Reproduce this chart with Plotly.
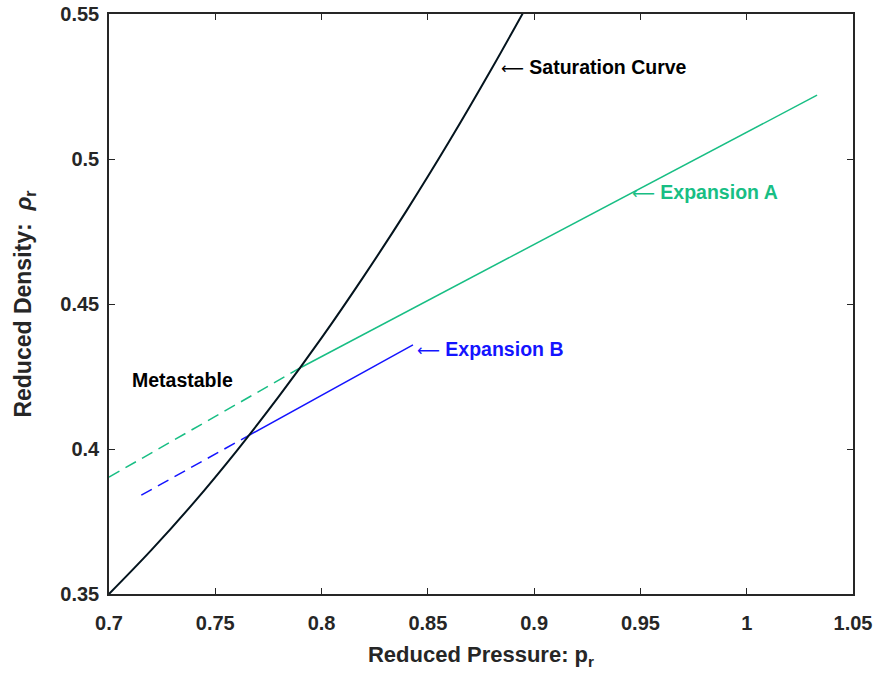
import plotly.graph_objects as go

# Saturation curve (reduced pressure, reduced density)
sat_p = [0.70, 0.72, 0.74, 0.76, 0.78, 0.80, 0.82, 0.84, 0.86, 0.88, 0.90]
sat_rho = [0.350, 0.3652, 0.3816, 0.3993, 0.4182, 0.4383, 0.4597, 0.4822, 0.5060, 0.5311, 0.5573]

# Expansion A: metastable (dashed) and stable (solid) parts
expA_meta_p = [0.700, 0.7905]
expA_meta_rho = [0.3903, 0.4282]
expA_p = [0.7905, 1.0331]
expA_rho = [0.4282, 0.5220]

# Expansion B
expB_meta_p = [0.7152, 0.7646]
expB_meta_rho = [0.3841, 0.4042]
expB_p = [0.7646, 0.8430]
expB_rho = [0.4042, 0.4359]

x_ticks = [0.7, 0.75, 0.8, 0.85, 0.9, 0.95, 1.0, 1.05]
x_ticklabels = ["0.7", "0.75", "0.8", "0.85", "0.9", "0.95", "1", "1.05"]
y_ticks = [0.35, 0.4, 0.45, 0.5, 0.55]
y_ticklabels = ["0.35", "0.4", "0.45", "0.5", "0.55"]

GREEN = "rgb(24,190,132)"
BLUE = "rgb(20,20,255)"
BLACK = "rgb(4,20,30)"
AXC = "#262626"
FONT = "Liberation Sans, Arial, sans-serif"
ARROW = '<span style="font-family:DejaVu Sans;font-weight:normal;font-size:16px">\u27f5</span> '

fig = go.Figure()
fig.add_trace(go.Scatter(x=expA_meta_p, y=expA_meta_rho, mode="lines",
                         line=dict(color=GREEN, width=1.5, dash="12px,7px")))
fig.add_trace(go.Scatter(x=expA_p, y=expA_rho, mode="lines",
                         line=dict(color=GREEN, width=1.5)))
fig.add_trace(go.Scatter(x=expB_meta_p, y=expB_meta_rho, mode="lines",
                         line=dict(color=BLUE, width=1.5, dash="12px,7px")))
fig.add_trace(go.Scatter(x=expB_p, y=expB_rho, mode="lines",
                         line=dict(color=BLUE, width=1.5)))
fig.add_trace(go.Scatter(x=sat_p, y=sat_rho, mode="lines",
                         line=dict(color=BLACK, width=2, shape="spline")))

ann_font = dict(family=FONT, size=19.5, weight="bold")
fig.add_annotation(x=0.8834, y=0.5318, text=ARROW + "Saturation Curve", showarrow=False,
                   xanchor="left", yanchor="middle", font=dict(**ann_font, color="black"))
fig.add_annotation(x=0.9451, y=0.4886, text=ARROW + "Expansion A", showarrow=False,
                   xanchor="left", yanchor="middle", font=dict(**ann_font, color=GREEN))
fig.add_annotation(x=0.8438, y=0.4345, text=ARROW + "Expansion B", showarrow=False,
                   xanchor="left", yanchor="middle", font=dict(**ann_font, color=BLUE))
fig.add_annotation(x=0.7101, y=0.4238, text="Metastable", showarrow=False,
                   xanchor="left", yanchor="middle", font=dict(**ann_font, color="black"))

axis_common = dict(showgrid=False, zeroline=False, showline=True, linecolor=AXC,
                   linewidth=1.5, mirror="ticks", ticks="inside", ticklen=6,
                   tickwidth=1.2, tickcolor=AXC, automargin=False,
                   tickfont=dict(family=FONT, size=20, color=AXC, weight="bold"))

fig.update_layout(
    width=879, height=677,
    margin=dict(l=109, r=26, t=14, b=83),
    paper_bgcolor="white", plot_bgcolor="white",
    showlegend=False,
    font=dict(family=FONT),
    xaxis=dict(range=[0.7, 1.05], tickvals=x_ticks, ticktext=x_ticklabels,
               ticklabelstandoff=10,
               title=dict(text="Reduced Pressure: p<sub>r</sub>",
                          font=dict(family=FONT, size=22, color=AXC, weight="bold"),
                          standoff=14),
               **axis_common),
    yaxis=dict(range=[0.35, 0.55], tickvals=y_ticks, ticktext=y_ticklabels,
               ticklabelstandoff=4,
               title=dict(text="Reduced Density:  <i>\u03c1</i><sub>r</sub>",
                          font=dict(family=FONT, size=23, color=AXC, weight="bold"),
                          standoff=22),
               **axis_common),
)

fig.write_html("out.html")
